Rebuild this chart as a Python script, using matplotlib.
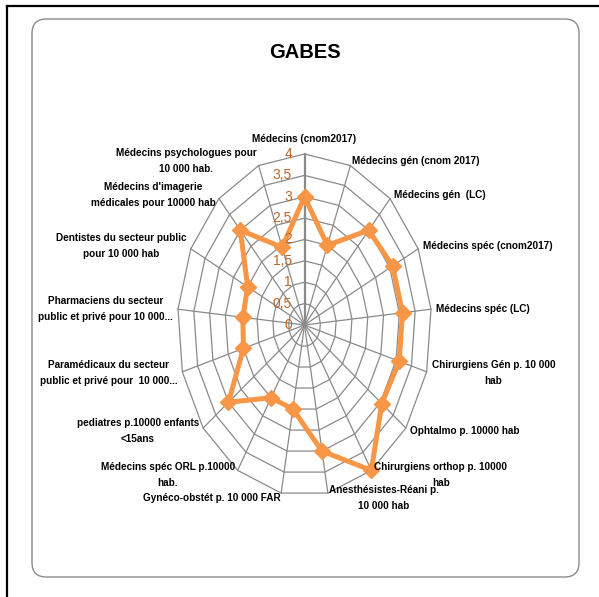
import matplotlib
matplotlib.use('Agg')
import matplotlib.pyplot as plt
import numpy as np
from matplotlib.patches import FancyBboxPatch
from matplotlib.lines import Line2D

# Data -------------------------------------------------------------------------
title = 'GABES'
categories = [
    'Médecins (cnom2017)',
    'Médecins gén (cnom 2017)',
    'Médecins gén  (LC)',
    'Médecins spéc (cnom2017)',
    'Médecins spéc (LC)',
    'Chirurgiens Gén p. 10 000\nhab',
    'Ophtalmo p. 10000 hab',
    'Chirurgiens orthop p. 10000\nhab',
    'Anesthésistes-Réani p.\n10 000 hab',
    'Gynéco-obstét p. 10 000 FAR',
    'Médecins spéc ORL p.10000\nhab.',
    'pediatres p.10000 enfants\n<15ans',
    'Paramédicaux du secteur\npublic et privé pour  10 000...',
    'Pharmaciens du secteur\npublic et privé pour 10 000...',
    'Dentistes du secteur public\npour 10 000 hab',
    "Médecins d'imagerie\nmédicales pour 10000 hab",
    'Médecins psychologues pour\n10 000 hab.',
]
values = [3.0, 2.0, 3.0, 3.1, 3.1, 3.1, 3.05, 4.0, 3.0, 2.0, 2.0, 3.0, 2.0, 1.95, 2.0, 3.0, 1.95]
rings = [0.5, 1.0, 1.5, 2.0, 2.5, 3.0, 3.5, 4.0]
ring_labels = ['0', '0,5', '1', '1,5', '2', '2,5', '3', '3,5', '4']

FONT = ['Liberation Sans', 'DejaVu Sans']
GRID = '#8a8a8a'
ORANGE = '#F79646'
TICKCOL = '#BF6527'

# Figure -----------------------------------------------------------------------
fig = plt.figure(figsize=(5.99, 5.97), dpi=100)
W, H = 599., 597.

# outer black frame (only left and top visible) and rounded chart box
fig.add_artist(Line2D([6.5/W, 6.5/W], [0, 1 - 6/H], color='black', lw=1.6,
                      transform=fig.transFigure))
fig.add_artist(Line2D([6.5/W, 1], [1 - 6/H, 1 - 6/H], color='black', lw=1.6,
                      transform=fig.transFigure))
box = FancyBboxPatch((32/W, 1 - 577/H), (579-32)/W, (577-19)/H,
                     boxstyle='round,pad=0,rounding_size=0.024',
                     transform=fig.transFigure, fill=False,
                     edgecolor='#8a8a8a', lw=1.0)
fig.add_artist(box)

fig.text(305/W, 1 - 52/H, title, ha='center', va='center', fontsize=14.5,
         fontweight='bold', family=FONT)

# Radar ------------------------------------------------------------------------
cx, cy, rx, ry = 304.5, 325.0, 127.0, 171.0
ax = fig.add_axes([(cx-rx)/W, 1-(cy+ry)/H, 2*rx/W, 2*ry/H], projection='polar')
ax.set_aspect('auto')
ax.set_theta_zero_location('N')
ax.set_theta_direction(-1)
ax.set_ylim(0, 4)
ax.grid(False)
ax.spines['polar'].set_visible(False)
ax.set_xticks([])
ax.set_yticks([])

n = len(categories)
theta = np.arange(n) * 2 * np.pi / n
theta_c = np.append(theta, theta[0])

# polygon web
for r in rings:
    ax.plot(theta_c, [r] * (n + 1), color=GRID, lw=0.9, clip_on=False, zorder=1)
for i, t in enumerate(theta):
    ax.plot([t, t], [0, 4], color=GRID, lw=1.6 if i == 0 else 0.9,
            clip_on=False, zorder=1)

vals_c = values + values[:1]
ax.plot(theta_c, vals_c, color=ORANGE, lw=3.6, marker='D', markersize=8.5,
        clip_on=False, zorder=3)

# radial value labels
for r, lab in zip([0] + rings, ring_labels):
    ax.annotate(lab, xy=(0, r), xytext=(-9, 0), textcoords='offset points',
                ha='right', va='center', fontsize=10, color=TICKCOL,
                family=FONT, annotation_clip=False)

# category labels
for t, lab in zip(theta, categories):
    s, c = np.sin(t), np.cos(t)
    if abs(s) < 0.05:
        ha, va, off = 'center', 'bottom', (0, 7)
    else:
        ha = 'left' if s > 0 else 'right'
        va = 'center'
        off = (3.8 * s, 3.8 * c)
    ax.annotate(lab, xy=(t, 4.0), xytext=off, textcoords='offset points',
                ha=ha, va=va, multialignment='center', fontsize=7.2,
                fontweight='bold', family=FONT, annotation_clip=False,
                linespacing=1.75)

fig.savefig('out.png', dpi=100)
